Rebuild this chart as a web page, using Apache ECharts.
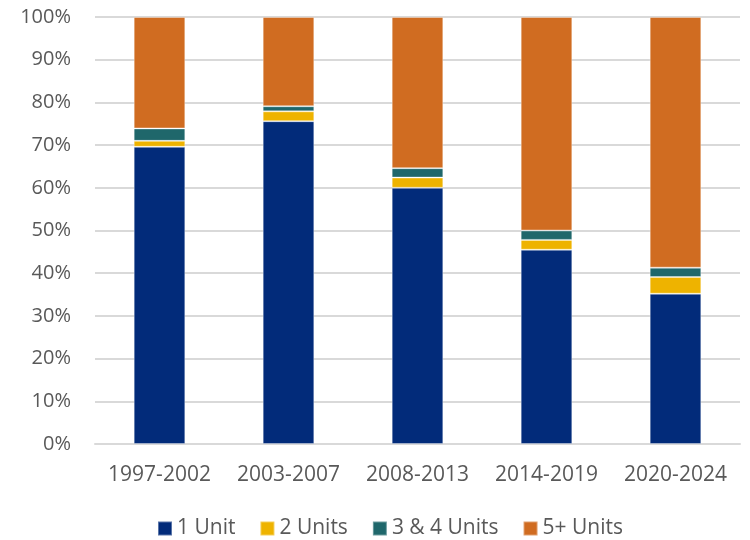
<!DOCTYPE html>
<html>
<head>
<meta charset="utf-8">
<script src="https://cdn.jsdelivr.net/npm/echarts@6/dist/echarts.min.js"></script>
<style>
  html, body { margin: 0; padding: 0; background: #fff; }
  #chart { width: 750px; height: 540px; }
</style>
</head>
<body>
<div id="chart"></div>
<script>
// share of units by building size, per period (percent)
var periods = [ '1997-2002', '2003-2007', '2008-2013', '2014-2019', '2020-2024' ];
var oneUnit = [ 69.6, 75.6, 60.0, 45.5, 35.2 ];
var twoUnits = [ 1.4, 2.3, 2.4, 2.3, 3.9 ];
var threeFourUnits = [ 2.9, 1.2, 2.2, 2.2, 2.2 ];
var fivePlusUnits = [ 26.1, 20.9, 35.4, 50.0, 58.7 ];
var yTicks = [ 0, 10, 20, 30, 40, 50, 60, 70, 80, 90, 100 ];

var names = [ '1 Unit', '2 Units', '3 & 4 Units', '5+ Units' ];
var colors = [ '#022b7a', '#eeb300', '#1f676b', '#d06c21' ];
var values = [ oneUnit, twoUnits, threeFourUnits, fivePlusUnits ];

var font = '"Open Sans", sans-serif';
var textColor = '#595959';

var series = names.map( function( name, i ) {
  return {
    name: name,
    type: 'bar',
    stack: 'total',
    barWidth: '40%',
    itemStyle: { color: colors[ i ], borderColor: 'rgba(255,255,255,0.35)', borderWidth: 1 },
    data: values[ i ]
  };
} );

var chart = echarts.init( document.getElementById( 'chart' ) );
chart.setOption( {
  animation: false,
  grid: { left: 95, right: 10, top: 17, bottom: 96 },
  legend: {
    data: names,
    bottom: 1,
    left: 157,
    padding: 0,
    itemWidth: 14,
    itemHeight: 14,
    itemGap: 24,
    icon: 'rect',
    textStyle: { fontFamily: font, fontSize: 21, color: textColor }
  },
  xAxis: {
    type: 'category',
    data: periods,
    axisTick: { show: false },
    axisLine: { lineStyle: { color: '#d9d9d9', width: 2 } },
    axisLabel: { interval: 0, fontFamily: font, fontSize: 21, color: textColor, margin: 21 }
  },
  yAxis: {
    type: 'value',
    min: yTicks[ 0 ],
    max: yTicks[ yTicks.length - 1 ],
    interval: 10,
    axisLabel: { fontFamily: font, fontSize: 20, color: textColor, margin: 24, formatter: '{value}%' },
    splitLine: { lineStyle: { color: '#d9d9d9', width: 2 } }
  },
  series: series
} );
</script>
</body>
</html>
